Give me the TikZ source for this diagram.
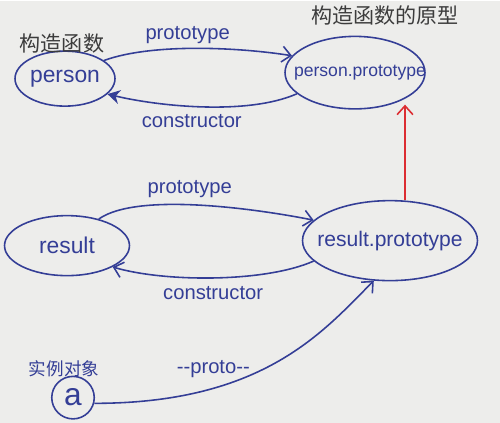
\documentclass[tikz,border=0pt]{standalone}
\usepackage{fontspec}
\setmainfont{Liberation Sans}
\newfontfamily\cjk{Noto Sans CJK SC}
\usetikzlibrary{shapes.geometric,arrows.meta}
\definecolor{ink}{RGB}{52,62,150}
\definecolor{pencil}{RGB}{60,60,60}
\definecolor{redink}{RGB}{220,45,50}
\definecolor{paper}{RGB}{237,237,235}
\begin{document}
\begin{tikzpicture}[x=0.02cm, y=-0.02cm,
		blob/.style={draw=ink, ellipse, line width=0.9pt, text=ink, font=\fontsize{13}{15}\selectfont, inner sep=0pt},
		link/.style={draw=ink, line width=0.9pt, -{Straight Barb[length=5pt,width=9pt]}},
		tag/.style={text=ink, font=\fontsize{11.5}{13}\selectfont},
		title/.style={text=pencil, font=\cjk\fontsize{12}{14}\selectfont}]
		\fill[paper] (0,0) rectangle (500,422);

		% constructor and its prototype
		\node[blob, minimum width=2.0cm, minimum height=1.1cm] (person) at (65,78) {\makebox[0pt]{person}};
		\node[blob, minimum width=2.8cm, minimum height=1.45cm, font=\fontsize{10}{12}\selectfont] (pproto) at (355,72) {\makebox[0pt]{\hspace{0.2cm}person.prototype}};
		\node[title] (t1) at (62,43) {构造函数};
		\node[title] (t2) at (385,15) {构造函数的原型};

		\draw[link] (person.25) .. controls +(50,-18) and +(-50,-8) .. (pproto.165)
			node[tag, pos=0.45, above=-1pt] {prototype};
		\draw[link, -{Stealth[length=7pt,width=8pt]}] (pproto.200) .. controls +(-50,22) and +(50,12) .. (person.-20)
			node[tag, pos=0.55, below=1pt] {constructor};

		% second pair
		\node[blob, minimum width=2.5cm, minimum height=1.2cm] (result) at (67,245) {\makebox[0pt]{result}};
		\node[blob, minimum width=3.5cm, minimum height=1.6cm, font=\fontsize{12}{14}\selectfont] (rproto) at (390,240) {\makebox[0pt]{result.prototype}};

		\draw[link] (result.40) .. controls +(40,-28) and +(-50,-10) .. (rproto.165)
			node[tag, pos=0.45, above=0pt] {prototype};
		\draw[link] (rproto.195) .. controls +(-50,22) and +(50,15) .. (result.-25)
			node[tag, pos=0.5, below=1pt] {constructor};

		% red link between the prototypes
		\draw[link, draw=redink] ([xshift=0.3cm]rproto.north) -- ([xshift=0.3cm,yshift=0.1cm]rproto.north |- pproto.south);

		% instance
		\node[draw=ink, circle, line width=0.9pt, minimum size=0.85cm, text=ink, font=\fontsize{18}{20}\selectfont, inner sep=0pt] (a) at (73,397) {a};
		\node[tag, font=\cjk\fontsize{10}{12}\selectfont] (t3) at (64,368) {实例对象};
		\draw[link] (a.-15) .. controls +(170,0) and +(-50,50) .. (rproto.-112)
			node[tag, pos=0.28, above=2pt] {-{}-proto-{}-};
	\end{tikzpicture}
\end{document}
